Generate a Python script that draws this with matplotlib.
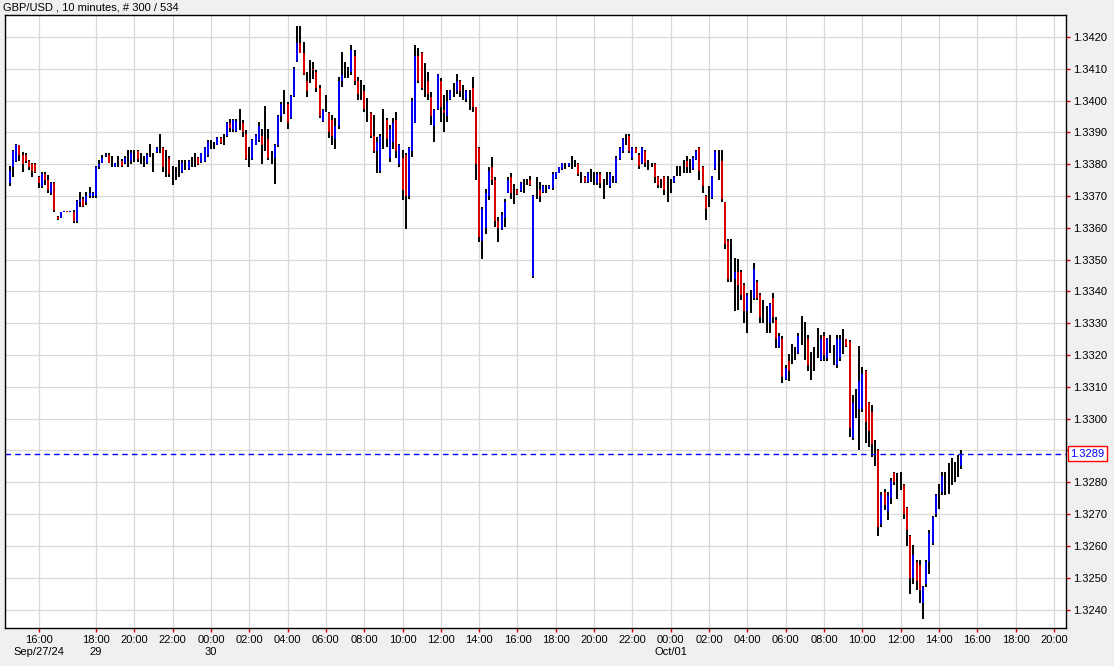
import matplotlib
matplotlib.use("Agg")
import matplotlib.pyplot as plt
import numpy as np

# OHLC in pips relative to 1.3300 (e.g. 80 -> 1.3380), 10-minute bars
bars = [
(79.5,73.2,74,78),(84.5,76.1,79,84),(86.4,80.8,81,86),(86,81,86,83),(83.7,77.4,83,80),(83.5,80.3,83,81),
(81.3,78.2,81,79),(80.5,76.1,80,78),(80.3,77.1,80,77.5),(76.3,72.4,76,74),(77.6,72.4,73,77),(77.6,73.5,77,75),
(76.6,70.8,75,72),(74.5,70.3,71,74),(74.5,65.1,74,65.5),(63.7,62.5,63.5,62.8),(65,63,63,65),(65.3,65,65,65.2),
(65.3,65,65.2,65.1),(65.3,65,65,65.2),(65.6,61.4,65,62),(68.8,61.4,62,68.5),(71.3,66.6,68,69),(69.8,66.5,69,67),
(71.3,67.1,68,70),(72.9,69.3,70,71),(71.3,69.3,70,71),(79.5,69.3,70,79),(81.4,78.4,79,80),(83,80.8,80.5,82),
(83.5,82.3,82.5,83),(83.5,80.3,83,80.5),
(82.5,79.1,81,81),(80.4,79.1,79.2,80.3),(82.5,79.1,80,80),(81.5,79.1,81,79.5),(82.5,80.2,80.4,82),(84.4,79.1,81,81),
(84.4,80.2,81,83.5),(84.4,80.7,82,82),(84.4,80.7,84,81.5),(83.6,80.2,82,82),(82.5,79.1,81,81),(83.6,80.2,80.5,83),
(86.3,82.3,84,84),(83.6,77.6,80,80),(85.4,83.6,83.7,85.2),(89.4,83.4,86,86),(85.4,77.6,85,79),(84.4,76.0,80,80),
(82.5,76.0,82,77),(79.4,73.4,76,76),(79.1,75.0,77,77),(81.3,76.0,78,78),(81.3,77.1,77.5,80.5),(81.3,78.1,79.5,79.5),
(81.3,78.1,78.5,81),(82.3,79.1,80.5,80.5),(83.4,79.1,81,81),(82.3,79.7,82,80),(83.6,80.4,80.6,83.4),(85.4,80.7,81,85),
(87.5,82.3,83,87),(87.5,84.9,86,86),
(87.0,84.9,86,86),(88.5,85.9,86,88.3),(88.5,86.5,88.3,86.8),(89.6,85.9,87.5,87.5),(93.3,88.6,88.8,93),(94.3,90.1,93,91.5),
(94.3,90.1,91,94),(94.3,90.1,90.5,93.5),(97.2,90.7,93,93),(93.8,88.6,93,90),(90.7,81.2,89.5,81.5),(85.4,79.1,82,82),
(88.0,81.2,81.5,87.5),(89.6,85.9,86,89.3),(93.3,87.0,87.5,92),(91.2,80.2,89,86),(98.2,84.3,88,88),(91.2,81.2,88,82),
(84.3,80.2,82,82),(86.5,73.9,82,86),(95.4,85.4,86,95),(99.6,93.3,95,99),(103.2,95.9,99,99),(99.6,91.2,99,93),
(101.7,94.3,94.5,101.5),(110.6,101.2,101.5,110),(123.4,112.2,112.5,118),(123.4,114.8,118,115),(118.5,108.0,115,108.5),
(109.0,101.2,106,103),(112.7,105.4,109,109),(112.2,106.9,110,109.5),
(109.6,102.8,109,104),(104.9,94.4,104,95),(97.5,93.3,93.5,97),(101.7,96.5,99,99),(96.5,88.1,96,90),(95.4,86.0,94,89),
(94.4,84.9,88,92),(107.5,91.2,92,106),(115.4,104.4,106,108),(112.2,107.0,109,109),(110.6,107.0,109,109),(117.5,108.0,109,116),
(115.9,104.9,114,106),(107.5,100.2,106,102),(106.4,100.2,103,103),(104.9,96.5,103,97.5),(100.7,93.3,97,97),(96.5,88.1,96,89),
(95.4,83.4,89,84),(88.6,77.1,84,87),(89.6,77.1,78,89),(97.5,84.9,89,89),(94.4,85.5,94,88),(92.3,80.7,82,91),
(94.4,84.9,87,93),(96.5,81.8,94,84),(86.5,79.1,80,86),(84.4,68.7,82,72),(83.4,59.7,83,70),(85.5,69.2,70,85),
(100.7,82.3,84,100),(117.5,92.8,93,114),(116.4,105.4,114,106),
(115.4,103.3,115,104),(111.7,101.2,105,105),(109.1,100.2,106,102),(102.8,92.3,101,95),(97.5,87.0,92,97),(108.5,97.0,97.5,108),
(107.0,93.3,106,98),(101.7,90.2,97,96),(103.3,93.3,95,100),(103.3,100.2,100.5,103),(105.4,101.2,103,103),(108.5,102.2,103,106),
(106.4,101.2,106,103),(104.9,100.2,103,103),(103.3,99.6,100.5,103),(103.3,97.0,101,101),(107.5,96.5,104,98),(98.0,75.0,98,80),
(85.5,55.5,85,57),(66.5,50.3,56,66),(72.3,58.2,60,71),(79.1,68.7,70,78),(82.3,73.4,79,75),(76.0,60.3,75,62),
(63.4,55.5,62,60),(65.0,59.2,59.5,64),(69.2,60.3,63,68),(76.0,70.8,71,75),(77.3,69.2,76,71),(73.9,67.6,71,71),
(72.3,70.2,72,70.5),(74.4,71.3,71.5,74),(75.2,70.8,73,73),
(75.2,73.4,74,74),(76.3,73.1,75,73.5),(70.3,44.3,45,70),(76.0,69.2,72,72),(74.5,68.2,72,70),(73.4,71.0,71.2,73),
(73.4,71.0,72,72),(73.4,72.1,72.2,73.2),(77.6,71.9,72.5,77),(77.6,75.5,75.6,77.5),(79.2,77.1,77.3,79),(80.5,78.2,78.4,80.3),
(80.5,78.4,79.5,79.5),(80.5,79.2,79.3,80.4),(82.6,78.4,80,80),(81.3,79.0,80,80),(80.5,76.3,80,77),(77.6,74.2,76,76),
(76.3,74.2,76,74.5),(77.6,74.2,74.5,77.3),(78.4,74.5,76,76),(77.6,73.4,75,75),(77.6,73.4,74,77),(77.6,72.4,77,74),
(75.2,69.2,73,73),(77.6,73.4,75,75),(77.6,72.4,73,77),(76.3,74.0,75,75),(82.6,74.2,74.5,82),(85.5,81.3,81.5,85),
(88.1,83.4,84,88),(89.5,86.0,87,87),(89.5,83.4,89,84),
(85.5,81.3,82,85),(85.5,83.4,85,83.6),(83.4,78.4,83,79.5),(85.5,80.2,80.5,85),(84.4,79.2,84,80.5),(81.3,78.2,79.5,79.5),
(80.5,79.2,80,80),(80.5,74.2,80,76),(76.3,72.4,76,73.5),(75.2,72.4,74,74),(76.3,70.3,76,72),(76.3,68.2,73,73),
(75.2,71.0,73,73),(76.3,74.2,74.3,76),(79.4,76.3,77.5,77.5),(79.4,76.3,78,78),(81.3,77.3,79,79),(82.6,77.3,81,79),
(81.5,77.3,79,79),(82.6,78.2,78.5,82),(84.4,81.3,81.5,84),(85.5,75.0,85,78),(79.4,71.0,79,73),(70.3,62.4,70,66),
(73.1,66.4,69,69),(76.3,69.2,69.5,76),(84.4,78.2,78.5,84),(84.4,75.0,80,80),(84.4,68.2,81,69),(68.2,53.2,68,55),
(56.6,43.0,56,44),(56.6,43.0,48,48),(50.6,34.0,44,46),
(50.1,34.3,46,42),(46.7,37.3,46,39),(42.5,30.1,42,34),(39.6,27.0,34,39),(40.6,33.3,37,37),(49.0,37.3,38,47),
(43.6,37.3,43,38),(39.6,30.1,39,32),(37.3,30.1,34,34),(35.4,27.0,31,31),(36.4,27.0,30,36),(39.6,30.1,38,32),
(32.0,22.3,31,25),(27.0,22.3,22.5,26),(25.9,11.2,25,13),(16.8,12.3,12.5,16),(20.2,12.0,18,15),(23.4,17.3,20,20),
(22.6,18.4,20,20),(26.8,20.2,20.5,26),(32.2,23.1,27,27),(30.4,18.4,24,24),(26.2,15.0,25,17),(21.0,12.3,16,16),
(22.6,15.0,18,18),(28.6,19.2,24,24),(26.2,18.1,18.5,25),(27.3,18.1,26,20),(25.5,18.1,19,25),(26.2,20.5,23,23),
(23.1,16.8,20,20),(26.2,16.0,17,25),(26.2,18.1,19,25),(28.3,20.2,24,24),(25.2,22.6,25,23),
(24.8,-5.9,24,-3),(7.4,-6.8,-6,5),(9.2,0.1,4,4),(22.7,-9.9,3,12),(16.4,2.2,3,14),(15.3,-7.8,15,-1),
(5.3,-8.9,5,-4),(4.3,-12.0,2,-8),(-6.8,-15.0,-10,-10),(-9.4,-37.0,-10,-34),(-23.0,-34.0,-33,-24),(-22.0,-28.8,-23,-27),
(-23.0,-32.0,-29,-24),(-18.8,-26.7,-25,-19.5),(-16.7,-21.0,-17,-20),(-17.0,-25.1,-20,-20),(-16.7,-22.5,-19,-19),(-20.6,-31.4,-21,-30),
(-27.7,-40.1,-28,-35),(-36.7,-55.1,-37,-50),(-39.8,-51.9,-50,-43),(-44.5,-54.0,-45,-51),(-44.5,-58.0,-46,-54),(-52.7,-62.9,-58,-53),
(-44.5,-52.9,-52,-45),(-35.1,-48.8,-45,-36),(-30.7,-39.8,-39,-31),(-23.6,-30.9,-30,-24),(-20.4,-28.3,-24,-24),(-16.7,-24.1,-23,-18),
(-16.7,-24.1,-20,-20),(-13.9,-23.8,-19,-19),(-12.5,-20.9,-17,-17),(-13.6,-19.9,-16,-16),(-11.5,-18.3,-15,-15),(-9.7,-15.7,-15,-11),
]
last_price = 1.3289
tick_labels = ["16:00","18:00","20:00","22:00","00:00","02:00","04:00","06:00","08:00","10:00","12:00","14:00",
               "16:00","18:00","20:00","22:00","00:00","02:00","04:00","06:00","08:00","10:00","12:00","14:00",
               "16:00","18:00","20:00"]
tick_index = [9] + [27 + 12*k for k in range(26)]
date_labels = {0: "Sep/27/24", 1: "29", 4: "30", 16: "Oct/01"}

plt.rcParams['font.family'] = ['Liberation Sans', 'DejaVu Sans']

arr = np.array(bars, dtype=float)
H = 1.33 + arr[:,0]/1e4; L = 1.33 + arr[:,1]/1e4
O = 1.33 + arr[:,2]/1e4; C = 1.33 + arr[:,3]/1e4
x = np.arange(len(bars))

fig = plt.figure(figsize=(11.14, 6.66), dpi=100)
fig.patch.set_facecolor("#f0f0f0")
ax = fig.add_axes([5/1114, 38/666, 1061/1114, 613/666])
ax.set_facecolor("white")

ax.vlines(x, L, H, color="black", lw=1.4)
up = C > O; dn = C < O
ax.vlines(x[up], O[up], C[up], color="blue", lw=1.4)
ax.vlines(x[dn], C[dn], O[dn], color="#dd0000", lw=1.4)
ax.axhline(last_price, color="blue", lw=1, ls=(0, (4, 3)))

px = 3.193
x0 = (96 - 27*px - 5) / px
ax.set_xlim(-x0, -x0 + 1061/px)
ax.set_ylim(1.32342, 1.34269)
yt = [1.3240 + 0.001*k for k in range(19)]
ax.set_yticks(yt)
ax.set_yticklabels(["" if abs(v - 1.3290) < 1e-6 else f"{v:.4f}" for v in yt])
ax.yaxis.tick_right()
ax.set_xticks(tick_index)
lbls = []
for i, t in enumerate(tick_labels):
    lbls.append(t + ("\n" + date_labels[i] if i in date_labels else "\n "))
ax.set_xticklabels(lbls, fontsize=8)
ax.tick_params(axis="both", colors="#dd0000", labelcolor="black", length=3, labelsize=8, width=1)
ax.tick_params(axis="x", pad=2)
ax.tick_params(axis="y", pad=2)
ax.grid(True, color="#d8d8d8", lw=0.9)
ax.set_axisbelow(True)
for s in ax.spines.values():
    s.set_color("black"); s.set_linewidth(1)

ax.text(1.004, last_price, f"{last_price:.4f}", transform=ax.get_yaxis_transform(), color="blue",
        fontsize=8, va="center", ha="left",
        bbox=dict(boxstyle="square,pad=0.2", fc="white", ec="red", lw=1))
fig.text(3/1114, 1 - 7/666, "GBP/USD , 10 minutes, # 300 / 534", fontsize=8, va="center", ha="left")

fig.savefig("out.png", dpi=100, facecolor=fig.get_facecolor())
